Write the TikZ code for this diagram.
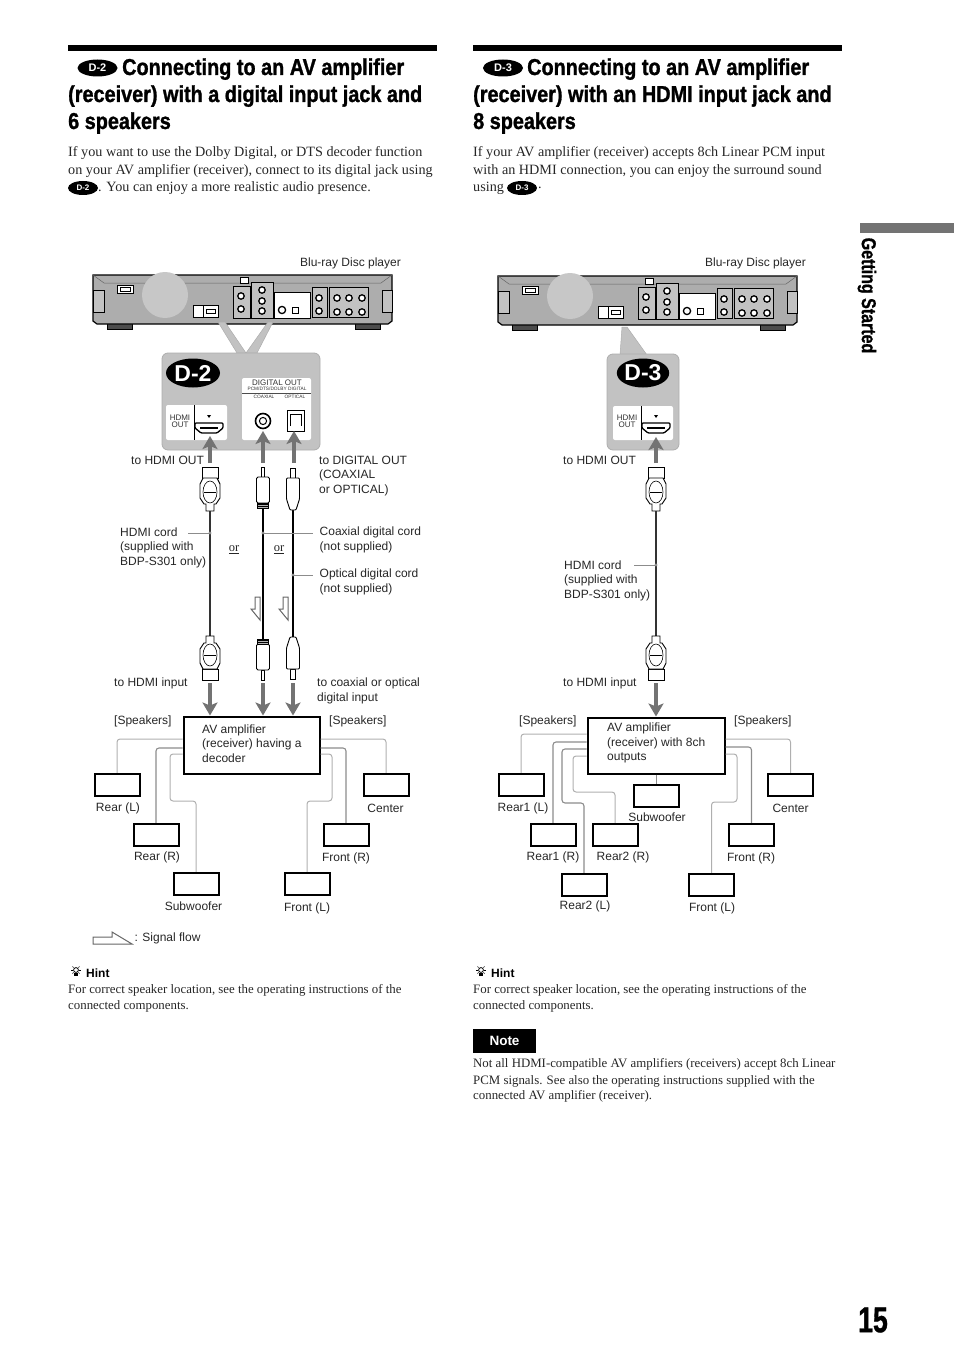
\documentclass[tikz,border=0pt]{standalone}
\usepackage{fontspec}
\setmainfont{Liberation Serif}
\setsansfont{Liberation Sans}
\newfontfamily\headfont[FakeStretch=0.863,FakeBold=1.2]{Liberation Sans}
\newfontfamily\sidefont[FakeStretch=0.8,FakeBold=1]{Liberation Sans}
\newfontfamily\numfont[FakeStretch=0.74,FakeBold=1]{Liberation Sans}
\usetikzlibrary{shapes.geometric,arrows.meta}
\definecolor{pgray}{gray}{0.76}
\definecolor{pdark}{gray}{0.68}
\definecolor{pfan}{gray}{0.78}
\definecolor{wgray}{gray}{0.55}
\definecolor{agray}{gray}{0.45}
\tikzset{
  x=1pt,y=-1pt,
  rulebar/.style={fill=black,draw=none},
  headtxt/.style={anchor=base west,inner sep=0,font=\headfont\bfseries\fontsize{23}{24}\selectfont},
  bodytxt/.style={anchor=west,inner sep=0,yshift=-1pt,text=black!85,font=\rmfamily\fontsize{14.2}{15}\selectfont},
  smalltxt/.style={anchor=west,inner sep=0,yshift=-1pt,text=black!85,font=\rmfamily\fontsize{12.85}{15}\selectfont},
  lbl/.style={anchor=west,inner sep=0,yshift=-.8pt,align=left,text=black!85,font=\sffamily\fontsize{12}{14.5}\selectfont},
  clbl/.style={lbl,anchor=center,align=center},
  orlbl/.style={anchor=center,inner sep=1pt,text=black!85,font=\rmfamily\fontsize{12.5}{14}\selectfont},
  badge/.style={ellipse,fill=black,text=white,inner sep=0,font=\sffamily\bfseries\fontsize{11}{11}\selectfont},
  bigbadge/.style={ellipse,fill=black,text=white,inner sep=0,minimum width=54,minimum height=29,font=\sffamily\bfseries\fontsize{23}{23}\selectfont},
  spk/.style={draw=black,line width=2,fill=white,minimum width=45,minimum height=22.5,inner sep=0},
  amp/.style={draw=black,line width=2,fill=white,inner sep=0},
  wire/.style={draw=wgray,line width=1.1,rounded corners=3},
  wirelight/.style={draw=wgray!70,line width=1,rounded corners=3},
  cableh/.style={draw=black!80,line width=1.1},
  cablec/.style={draw=black,line width=1.9},
  cableo/.style={draw=black,line width=1.4},
  lead/.style={draw=wgray,line width=1},
  leaddot/.style={circle,fill=wgray,inner sep=0,minimum size=3.2},
  sigarrow/.style={draw=agray,line width=4.4,-{Stealth[length=13,width=15,inset=3]}},
  panelfill/.style={fill=pgray,draw=pdark,line width=.8},
  hollow/.style={draw=black!60,line width=1,fill=white},
  tiny/.style={inner sep=0,align=center,text=black!80,font=\sffamily\fontsize{8}{8}\selectfont},
  tinier/.style={inner sep=0,text=black!80,font=\sffamily\fontsize{4.8}{5}\selectfont},
  playerback/.pic={
    \draw[black,line width=.8,fill=black!70] (107,323) rectangle (132,329);
    \draw[black,line width=.8,fill=black!70] (355,323) rectangle (380,329);
    \draw[black,line width=1.2,fill=pdark] (93,275) -- (392,275) -- (392,321) -- (388,324) -- (97,324) -- (93,321) -- cycle;
    \draw[black!60,line width=.5] (93,275) -- (104,283) -- (381,283) -- (392,275);
    \draw[black,line width=.6,fill=pgray] (93,290) rectangle (104,312);
    \draw[black,line width=.6,fill=pgray] (382,290) rectangle (392,312);
    \fill[pfan] (165,295) circle[radius=23];
    \draw[black,line width=1,fill=white] (117,285) rectangle (133,293);
    \draw[black,line width=.6] (120,287) rectangle (130,291);
    \draw[black,line width=.5,fill=white] (240,277) rectangle (248,283);
    \draw[black,line width=.6,fill=white] (193,305) rectangle (218,317);
    \draw[black,line width=.6] (203,305) -- (203,317);
    \draw[black,line width=.9] (206,309) rectangle (215,313);
    \draw[black,line width=.8,fill=pgray] (233,286) rectangle (250,318);
    \draw[black,line width=.8,fill=pgray] (251,282) rectangle (273,318);
    \draw[black,line width=.6,fill=white] (274,292) rectangle (310,318);
    \draw[black,line width=.8,fill=pgray] (312,287) rectangle (327,317);
    \draw[black,line width=.8,fill=pgray] (329,287) rectangle (368,317);
    \foreach \px/\py in {241/296,241/309,262/290,262/301,262/311,319/298,319/311,337/298,349/298,362/298,337/312,349/312,362/312}
      {\draw[black,line width=1.3,fill=white] (\px,\py) circle[radius=3.2];}
    \draw[black,line width=1.3,fill=white] (282,310) circle[radius=3.6];
    \draw[black,line width=1,fill=white] (292,307) rectangle (298,313);
  },
  hdmiport/.pic={
    \draw[black,line width=1.3,fill=white,rounded corners=1] (-14,-5) -- (14,-5) -- (14,0) -- (8,5) -- (-8,5) -- (-14,0) -- cycle;
    \fill[black] (-9,-1) rectangle (9,1);
    \fill[black] (-2,-13) -- (2,-13) -- (0,-10) -- cycle;
  },
  hdmiplug/.pic={
    \draw[black,line width=.9,fill=white] (-8,0) rectangle (8,11);
    \draw[black,line width=.9,fill=white] (-7,11) -- (7,11) -- (10,17) -- (10,31) -- (6,37) -- (4,37) -- (4,44) -- (-4,44) -- (-4,37) -- (-6,37) -- (-10,31) -- (-10,17) -- cycle;
    \draw[black,line width=.6] (0,25) ellipse[x radius=7,y radius=11];
    \draw[black,line width=.6] (-6,25) -- (6,25);
  },
  coaxplug/.pic={
    \draw[black,line width=.9,fill=white] (-1.5,0) rectangle (1.5,10);
    \draw[black,line width=.9,fill=white,rounded corners=1.5] (-6.5,10) rectangle (6.5,36);
    \draw[black,line width=.9,fill=black!30] (-5.5,36) rectangle (5.5,41);
    \foreach \s in {37.5,39.5}{\draw[black,line width=.5] (-5.5,\s) -- (5.5,\s);}
  },
  optplug/.pic={
    \draw[black,line width=.9,fill=white] (-2.5,1) rectangle (2.5,11);
    \draw[black,line width=.9,fill=white,rounded corners=1] (-6.5,11) -- (6.5,11) -- (6.5,32) -- (3,43) -- (-3,43) -- (-6.5,32) -- cycle;
  },
  bulbicon/.pic={
    \draw[black,line width=.8] (0,0) circle[radius=2.4];
    \fill[black] (-1.6,3) rectangle (1.6,6);
    \foreach \a in {0,45,135,180,225,315}{\draw[black,line width=.6] (\a:3.4) -- (\a:5);}
  },
}
\begin{document}
\begin{tikzpicture}
\useasboundingbox (0,0) rectangle (954,1351);
% ---------- headings
\fill[rulebar] (68,45) rectangle (437,51);
\fill[rulebar] (473,45) rectangle (842,51);
\node[badge,minimum width=40,minimum height=17] (b2a) at (97.5,68) {D-2};
\node[badge,minimum width=40,minimum height=17] (b3a) at (503,68) {D-3};
\node[headtxt] (h2a) at (122,75) {Connecting to an AV amplifier};
\node[headtxt] (h2b) at (68,102) {(receiver) with a digital input jack and};
\node[headtxt] (h2c) at (68,129) {6 speakers};
\node[headtxt] (h3a) at (527,75) {Connecting to an AV amplifier};
\node[headtxt] (h3b) at (473,102) {(receiver) with an HDMI input jack and};
\node[headtxt] (h3c) at (473,129) {8 speakers};
% ---------- intro text
\node[bodytxt] (t2a) at (68,152) {If you want to use the Dolby Digital, or DTS decoder function};
\node[bodytxt] (t2b) at (68,170) {on your AV amplifier (receiver), connect to its digital jack using};
\node[badge,minimum width=30,minimum height=14,font=\sffamily\bfseries\fontsize{8}{8}\selectfont] (b2b) at (83,188) {D-2};
\node[bodytxt] (t2c) at (98,187) {. You can enjoy a more realistic audio presence.};
\node[bodytxt] (t3a) at (473,152) {If your AV amplifier (receiver) accepts 8ch Linear PCM input};
\node[bodytxt] (t3b) at (473,170) {with an HDMI connection, you can enjoy the surround sound};
\node[bodytxt] (t3c) at (473,187) {using};
\node[badge,minimum width=30,minimum height=14,font=\sffamily\bfseries\fontsize{8}{8}\selectfont] (b3b) at (522,188) {D-3};
\node[bodytxt] (t3d) at (538,187) {.};
% ---------- side tab and page number
\fill[black!55] (860,223) rectangle (954,233);
\node[rotate=-90,inner sep=0,font=\sidefont\bfseries\fontsize{20}{20}\selectfont] (side) at (867,295.5) {Getting Started};
\node[inner sep=0,font=\numfont\bfseries\fontsize{36}{36}\selectfont] (pg) at (873,1320) {15};
% ---------- LEFT: player
\node[lbl,anchor=east] (bd2) at (401,263) {Blu-ray Disc player};
\pic at (0,0) {playerback};
\fill[pgray,draw=pdark,line width=.5] (218,322) -- (225,322) -- (246,353) -- (237,353) -- cycle;
\fill[pgray,draw=pdark,line width=.5] (268,322) -- (273,322) -- (257,353) -- (246,353) -- cycle;
\draw[panelfill,rounded corners=6] (162,353) rectangle (320,450);
\node[bigbadge] (d2) at (193,373) {D-2};
\fill[white,rounded corners=2] (166,405) rectangle (227,440);
\draw[black,line width=.7] (194,405) -- (194,440);
\node[tiny] (h2out) at (180,421) {HDMI\\[-1pt]OUT};
\pic at (209,428) {hdmiport};
\fill[white,rounded corners=2] (242,378) rectangle (311,440);
\draw[black!70,line width=.7] (242,393) -- (311,393);
\node[tiny] (dout) at (277,383) {DIGITAL OUT};
\node[tinier] (dout2) at (277,388.5) {PCM/DTS/DOLBY DIGITAL};
\node[tinier] (coaxt) at (264,396.5) {COAXIAL};
\node[tinier] (optt) at (295,396.5) {OPTICAL};
\draw[black,line width=1.6,fill=white] (263,421) circle[radius=7.5];
\draw[black,line width=1] (263,421) circle[radius=3.6];
\draw[black,line width=.7] (287,410) rectangle (304,431);
\draw[black,line width=.8] (290,426) -- (290,414) -- (301,414) -- (301,426);
% arrows up
\coordinate (hu0) at (210,463); \coordinate (hu1) at (210,436);
\coordinate (cu0) at (263,463); \coordinate (cu1) at (263,431);
\coordinate (ou0) at (294,463); \coordinate (ou1) at (294,431);
\draw[sigarrow] (hu0) -- (hu1);
\draw[sigarrow] (cu0) -- (cu1);
\draw[sigarrow] (ou0) -- (ou1);
% cables
\coordinate (hc0) at (210,510); \coordinate (hc1) at (210,637);
\coordinate (cc0) at (263,506); \coordinate (cc1) at (263,641);
\coordinate (oc0) at (293,509); \coordinate (oc1) at (293,638);
\draw[cableh] (hc0) -- (hc1);
\draw[cablec] (cc0) -- (cc1);
\draw[cableo] (oc0) -- (oc1);
\pic at (210,467) {hdmiplug};
\pic[yscale=-1] at (210,680) {hdmiplug};
\pic at (263,467) {coaxplug};
\pic[yscale=-1] at (263,680) {coaxplug};
\pic at (293,467) {optplug};
\pic[yscale=-1] at (293,680) {optplug};
% labels
\node[lbl] (l1) at (131,460) {to HDMI OUT};
\node[lbl] (l2) at (319,475) {to DIGITAL OUT\\(COAXIAL\\or OPTICAL)};
\node[lbl] (l3) at (120,547) {HDMI cord\\(supplied with\\BDP-S301 only)};
\node[lbl] (l4) at (319.5,539) {Coaxial digital cord\\(not supplied)};
\node[lbl] (l5) at (319.5,581) {Optical digital cord\\(not supplied)};
\coordinate (hd) at (210,533); \coordinate (cd) at (263,533); \coordinate (od) at (293,575);
\draw[lead] (188,533) -- (hd);
\draw[lead] (cd) -- (313,533);
\draw[lead] (od) -- (313,575);
\node[leaddot] (hdd) at (hd) {};
\node[leaddot] (cdd) at (cd) {};
\node[leaddot] (odd) at (od) {};
\node[orlbl] (or1) at (234,550) {\underline{or}};
\node[orlbl] (or2) at (279,550) {\underline{or}};
\draw[hollow] (255,597) -- (260,597) -- (260,620) -- (251,609) -- (255,609) -- cycle;
\draw[hollow] (283,597) -- (288,597) -- (288,620) -- (279,609) -- (283,609) -- cycle;
\node[lbl] (l6) at (114,683) {to HDMI input};
\node[lbl] (l7) at (317,690) {to coaxial or optical\\digital input};
% amp and arrows down
\node[lbl] (s1) at (114,721) {[Speakers]};
\node[lbl] (s2) at (329,721) {[Speakers]};
\node[amp,minimum width=136,minimum height=57] (ampL) at (251.5,745) {};
\node[lbl] (ampLt) at (202,742.5) {AV amplifier\\(receiver) having a\\decoder};
\coordinate (hd0) at (210,683); \coordinate (cd0) at (263,683); \coordinate (od0) at (293,683);
\draw[sigarrow] (hd0) -- (ampL.north -| hd0);
\draw[sigarrow] (cd0) -- (ampL.north -| cd0);
\draw[sigarrow] (od0) -- (ampL.north -| od0);
% speakers
\node[spk] (rl) at (117,785) {};
\node[spk] (rr) at (156,835) {};
\node[spk] (sb) at (196,884) {};
\node[spk] (fl) at (307,884) {};
\node[spk] (fr) at (346,835) {};
\node[spk] (ct) at (386,785) {};
\node[clbl] (rlt) at (118,808) {Rear (L)};
\node[clbl] (rrt) at (157,857) {Rear (R)};
\node[clbl] (sbt) at (193.5,905) {Subwoofer};
\node[clbl] (flt) at (307,907.5) {Front (L)};
\node[clbl] (frt) at (346,857.5) {Front (R)};
\node[clbl] (ctt) at (385.5,808) {Center};
\draw[wirelight] (ampL.west |- 0,739) -| (rl.north);
\draw[wire] (ampL.west |- 0,748) -| (rr.north);
\draw[wirelight] (ampL.west |- 0,754) -| (170,801) -| (sb.north);
\draw[wirelight] (ampL.east |- 0,739) -| (ct.north);
\draw[wire] (ampL.east |- 0,748) -| (fr.north);
\draw[wirelight] (ampL.east |- 0,754) -| (332,801) -| (fl.north);
% legend
\draw[hollow] (93,937) -- (112,937) -- (112,932) -- (132,944) -- (93,944) -- cycle;
\node[lbl] (leg) at (134.5,938) {: Signal flow};
% hint left
\pic at (76,970) {bulbicon};
\node[lbl,font=\sffamily\bfseries\fontsize{12}{14}\selectfont,text=black] (hint1) at (86,972) {Hint};
\node[smalltxt] (ht1a) at (68,989) {For correct speaker location, see the operating instructions of the};
\node[smalltxt] (ht1b) at (68,1005) {connected components.};
% ---------- RIGHT: player
\node[lbl,anchor=east] (bd3) at (806,263) {Blu-ray Disc player};
\pic at (405,1) {playerback};
\fill[pgray,draw=pdark,line width=.5] (622,327) -- (627,327) -- (647,355) -- (620,355) -- cycle;
\draw[panelfill,rounded corners=6] (607,354) rectangle (679,450);
\node[bigbadge,minimum width=52] (d3) at (643,373) {D-3};
\fill[white,rounded corners=2] (613,406) rectangle (673,440);
\draw[black,line width=.7] (641,406) -- (641,440);
\node[tiny] (h3out) at (627,421) {HDMI\\[-1pt]OUT};
\pic at (656,428) {hdmiport};
\coordinate (hu0r) at (656,463); \coordinate (hu1r) at (656,437);
\draw[sigarrow] (hu0r) -- (hu1r);
\coordinate (hc0r) at (656,510); \coordinate (hc1r) at (656,637);
\draw[cableh] (hc0r) -- (hc1r);
\pic at (656,467) {hdmiplug};
\pic[yscale=-1] at (656,680) {hdmiplug};
\node[lbl] (r1) at (563,460) {to HDMI OUT};
\node[lbl] (r3) at (564,580) {HDMI cord\\(supplied with\\BDP-S301 only)};
\coordinate (hdr) at (656,565);
\draw[lead] (634,565) -- (hdr);
\node[leaddot] (hdrd) at (hdr) {};
\node[lbl] (r6) at (563,683) {to HDMI input};
\node[lbl] (s3) at (519,721) {[Speakers]};
\node[lbl] (s4) at (734,721) {[Speakers]};
\node[amp,minimum width=137,minimum height=56] (ampR) at (656,745.5) {};
\node[lbl] (ampRt) at (607,742.5) {AV amplifier\\(receiver) with 8ch\\outputs};
\coordinate (hd0r) at (656,683);
\draw[sigarrow] (hd0r) -- (ampR.north -| hd0r);
\node[spk] (r1l) at (521,785) {};
\node[spk] (r1r) at (553,835) {};
\node[spk] (r2r) at (615,835) {};
\node[spk] (sbr) at (656.5,796) {};
\node[spk] (r2l) at (584,885) {};
\node[spk] (flr) at (711.5,885) {};
\node[spk] (frr) at (751.5,835) {};
\node[spk] (ctr) at (790.5,785) {};
\node[clbl] (r1lt) at (523,808) {Rear1 (L)};
\node[clbl] (r1rt) at (553,857) {Rear1 (R)};
\node[clbl] (r2rt) at (623,857) {Rear2 (R)};
\node[clbl] (sbrt) at (657,816) {Subwoofer};
\node[clbl] (r2lt) at (585,906) {Rear2 (L)};
\node[clbl] (flrt) at (712,907.5) {Front (L)};
\node[clbl] (frrt) at (751,857.5) {Front (R)};
\node[clbl] (ctrt) at (790.5,808) {Center};
\draw[wirelight] (ampR.west |- 0,734) -| (r1l.north);
\draw[wire] (ampR.west |- 0,742) -| (r1r.north);
\draw[wire] (ampR.west |- 0,749) -| (562,803) -| (r2l.north);
\draw[wirelight] (ampR.west |- 0,756) -| (573,792) -| (r2r.north);
\draw[wire] (ampR.south -| sbr.north) -- (sbr.north);
\draw[wirelight] (ampR.east |- 0,739) -| (ctr.north);
\draw[wire] (ampR.east |- 0,747) -| (frr.north);
\draw[wirelight] (ampR.east |- 0,754) -| (737,802) -| (flr.north);
% hint right
\pic at (481,970) {bulbicon};
\node[lbl,font=\sffamily\bfseries\fontsize{12}{14}\selectfont,text=black] (hint2) at (491,972) {Hint};
\node[smalltxt] (ht2a) at (473,989) {For correct speaker location, see the operating instructions of the};
\node[smalltxt] (ht2b) at (473,1005) {connected components.};
% note
\node[fill=black,text=white,minimum width=63,minimum height=24,inner sep=0,font=\sffamily\bfseries\fontsize{13.5}{14}\selectfont] (note) at (504.5,1041) {Note};
\node[smalltxt] (n1) at (473,1063) {Not all HDMI-compatible AV amplifiers (receivers) accept 8ch Linear};
\node[smalltxt] (n2) at (473,1080) {PCM signals. See also the operating instructions supplied with the};
\node[smalltxt] (n3) at (473,1095) {connected AV amplifier (receiver).};
\end{tikzpicture}
\end{document}
